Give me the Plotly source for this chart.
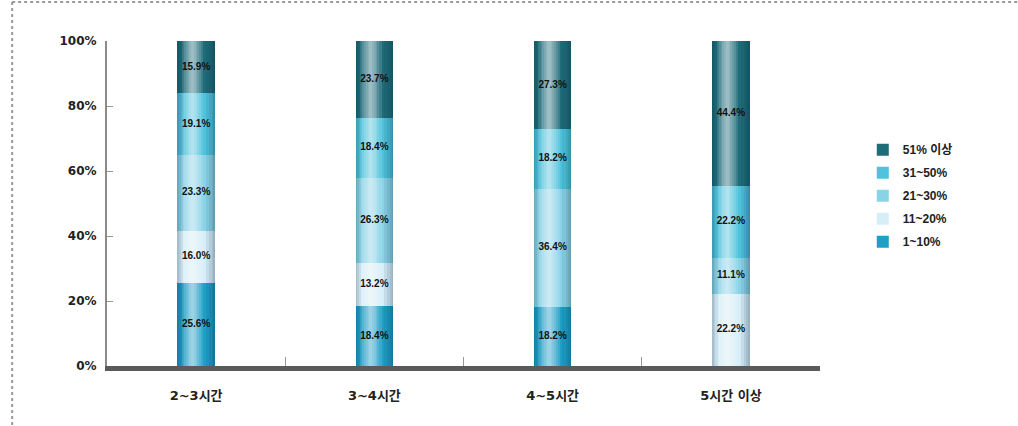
import plotly.graph_objects as go

categories = ["2~3시간", "3~4시간", "4~5시간", "5시간 이상"]
series_names = ["1~10%", "11~20%", "21~30%", "31~50%", "51% 이상"]
v_1_10 = [25.6, 18.4, 18.2, 0.0]
v_11_20 = [16.0, 13.2, 0.0, 22.2]
v_21_30 = [23.3, 26.3, 36.4, 11.1]
v_31_50 = [19.1, 18.4, 18.2, 22.2]
v_51_up = [15.9, 23.7, 27.3, 44.4]
y_ticks = [0, 20, 40, 60, 80, 100]

series_values = [v_1_10, v_11_20, v_21_30, v_31_50, v_51_up]
colors = ["#1e9fc6", "#d6eef8", "#8ad3e7", "#4fc2dc", "#1f6c79"]

FONT = "Arial, 'Noto Sans CJK KR', sans-serif"
TICKFONT = "'DejaVu Sans', 'Noto Sans CJK KR', sans-serif"
BAR_W = 0.21
HALF = BAR_W / 2
fig = go.Figure()

cum = [0.0] * len(categories)
n_series = len(series_names)
for gi, (name, vals, col) in enumerate(zip(series_names, series_values, colors)):
    fig.add_trace(go.Bar(
        x=categories, y=vals, base=list(cum), name=f"<b>{name}</b>", width=BAR_W,
        legendgroup=f"g{gi}", legendrank=100 + (n_series - gi) * 10,
        marker=dict(color=col, line=dict(width=0)),
        hoverinfo="x+y",
    ))
    cum = [c + v for c, v in zip(cum, vals)]

totals = cum

# cylinder shading: nested translucent overlays (style only)
overlays = []
hc = -0.02
for w in [0.12, 0.095, 0.075, 0.055, 0.035, 0.018]:
    overlays.append((hc - w / 2, w, "rgba(255,255,255,0.13)"))
for w in [0.03, 0.018, 0.008]:
    overlays.append((-HALF, w, "rgba(0,30,50,0.08)"))
for w in [0.05, 0.032, 0.018, 0.008]:
    overlays.append((HALF - w, w, "rgba(0,30,50,0.08)"))
for off, w, col in overlays:
    fig.add_trace(go.Bar(x=categories, y=totals, base=[0] * len(categories),
                         width=w, offset=off,
                         marker=dict(color=col, line=dict(width=0)),
                         showlegend=False, hoverinfo="skip"))

# value labels
lx, ly, lt = [], [], []
for i, c in enumerate(categories):
    s = 0.0
    for vals in series_values:
        v = vals[i]
        if v > 0:
            lx.append(c)
            ly.append(s + v / 2)
            lt.append(f"<b>{v:.1f}%</b>")
        s += v
fig.add_trace(go.Scatter(x=lx, y=ly, text=lt, mode="text",
                         textfont=dict(size=10, color="#111", family=FONT),
                         showlegend=False, hoverinfo="skip"))

fig.update_layout(
    width=1018, height=426,
    barmode="overlay",
    bargap=0,
    plot_bgcolor="white", paper_bgcolor="white",
    margin=dict(l=107, r=198, t=41, b=60),
    font=dict(family=FONT, size=11, color="#222"),
    xaxis=dict(
        type="category", categoryarray=categories, range=[-0.5, 3.5],
        tickvals=categories, ticktext=[f"<b>{c}</b>" for c in categories],
        showline=True, linewidth=5, linecolor="#5a5a5a",
        ticks="inside", tickson="boundaries", ticklen=9, tickcolor="#999", tickwidth=1,
        tickfont=dict(size=13, family=TICKFONT, color="#222"),
        ticklabelstandoff=13,
        showgrid=False, zeroline=False,
    ),
    yaxis=dict(
        range=[0, 100], tickvals=y_ticks, ticktext=[f"<b>{t}%</b>" for t in y_ticks],
        showline=True, linewidth=2, linecolor="#8a8a8a",
        ticks="inside", ticklen=6, tickcolor="#999",
        tickfont=dict(size=12, family=TICKFONT, color="#222"),
        ticklabelstandoff=6,
        showgrid=False, zeroline=False,
    ),
    legend=dict(
        x=1.06, y=0.71, xanchor="left", yanchor="top",
        traceorder="grouped", font=dict(size=12, family=FONT, color="#222"),
        tracegroupgap=4, bgcolor="rgba(0,0,0,0)",
    ),
    shapes=[
        dict(type="line", xref="paper", yref="paper", x0=-0.133, x1=1.3, y0=1.12, y1=1.12,
             line=dict(color="#999", width=2, dash="dot")),
        dict(type="line", xref="paper", yref="paper", x0=-0.133, x1=-0.133, y0=1.12, y1=-0.2,
             line=dict(color="#999", width=2, dash="dot")),
    ],
)

fig.write_html("out.html", config={"displayModeBar": False},
               post_script="document.body.style.margin='0';")
